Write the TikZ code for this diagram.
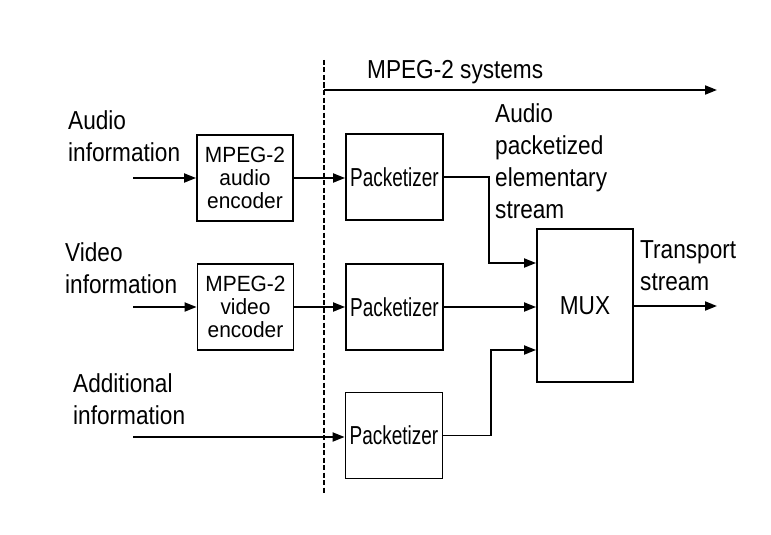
\documentclass[tikz,border=0pt]{standalone}
\usepackage{fontspec}
\setmainfont{Liberation Sans}[FakeStretch=0.87]
\newfontfamily\pkfont{Liberation Sans}[FakeStretch=0.73]
\newfontfamily\encfont{Liberation Sans}[FakeStretch=0.95]
\usetikzlibrary{arrows.meta,calc}
\begin{document}
\begin{tikzpicture}[x=1pt,y=-1pt,
  every node/.style={inner sep=0pt},
  lbl/.style={align=left,anchor=west,font=\fontsize{26}{32}\selectfont},
  blk/.style={draw,line width=1.8pt,align=center},
  enc/.style={blk,minimum width=96pt,minimum height=86pt,font=\encfont\fontsize{22}{23}\selectfont},
  pk/.style={blk,minimum width=97pt,minimum height=86pt,font=\pkfont\fontsize{26}{26}\selectfont},
  arr/.style={line width=1.8pt,-{Triangle[length=12pt,width=9pt]}}]
\useasboundingbox (0,0) rectangle (771,535);
\fill[white] (0,0) rectangle (771,535);
% blocks
\node[enc] (aenc) at (245,178) {MPEG-2\\audio\\encoder};
\node[enc] (venc) at (245.5,307) {MPEG-2\\video\\encoder};
\node[pk] (p1) at (394.5,177) {Packetizer};
\node[pk] (p2) at (394.5,307) {Packetizer};
\node[pk] (p3) at (394,435.5) {Packetizer};
\node[blk,minimum width=96pt,minimum height=153pt,font=\fontsize{26}{32}\selectfont] (mux) at (585,305.5) {MUX};
% labels
\node[lbl] (la) at (68,136) {Audio\\information};
\node[lbl] (lv) at (65,268) {Video\\information};
\node[lbl] (ld) at (73,399) {Additional\\information};
\node[lbl] (lp) at (495,161.5) {Audio\\packetized\\elementary\\stream};
\node[lbl] (lt) at (640,266) {Transport\\stream};
\node[lbl] (ls) at (367,72) {MPEG-2 systems};
% coordinates
\coordinate (ain) at (133,178);
\coordinate (vin) at (133,307);
\coordinate (din) at (133,437);
\coordinate (dashT) at (324,60);
\coordinate (dashB) at (324,493);
\coordinate (sysL) at (324,90);
\coordinate (sysR) at (717,90);
\coordinate (tsout) at (717,306);
\coordinate (j1) at (489,177);
\coordinate (j3) at (491,435.5);
% lines
\draw[line width=2pt,dash pattern=on 5pt off 2.5pt] (dashT) -- (dashB);
\draw[arr] (sysL) -- (sysR);
\draw[arr] (ain) -- (aenc.west);
\draw[arr] (vin) -- (venc.west);
\draw[arr] (din) -- (din -| p3.west);
\draw[arr] (aenc.east) -- (aenc.east -| p1.west);
\draw[arr] (venc.east) -- (p2.west);
\draw[arr] (p1.east) -- (j1) |- ($(mux.west)+(0,-42.5)$);
\draw[arr] (p2.east) -- (p2.east -| mux.west);
\draw[arr] (p3.east) -- (j3) |- ($(mux.west)+(0,44.5)$);
\draw[arr] (mux.east |- tsout) -- (tsout);
\end{tikzpicture}
\end{document}
